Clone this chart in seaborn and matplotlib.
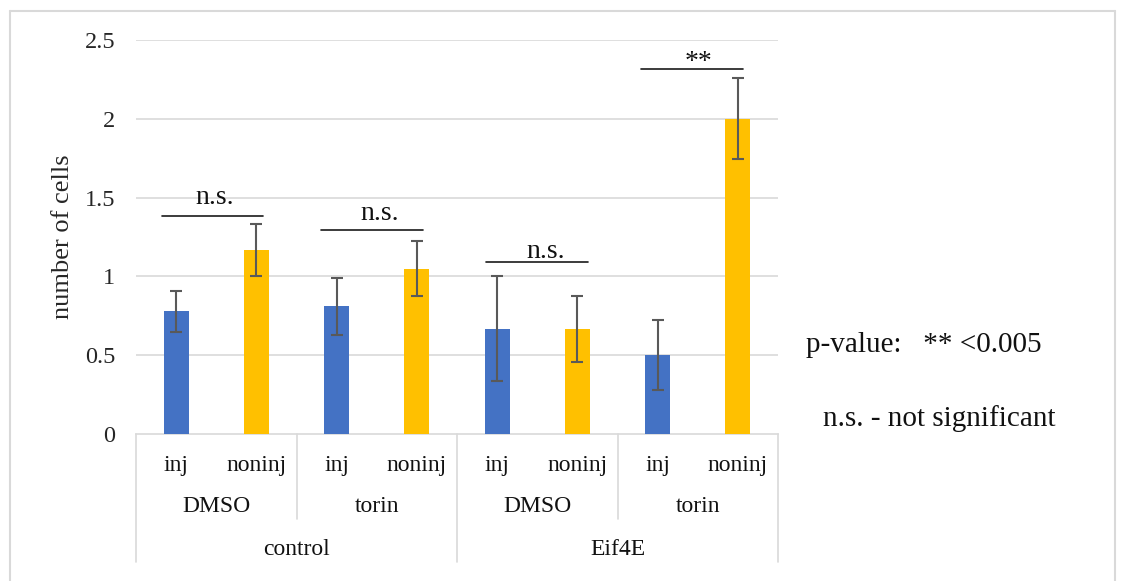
import numpy as np
import pandas as pd
import matplotlib
matplotlib.use("Agg")
import matplotlib.pyplot as plt
from matplotlib.lines import Line2D
import seaborn as sns

# ---- data -------------------------------------------------------------
groups = ["control", "control", "control", "control",
          "Eif4E", "Eif4E", "Eif4E", "Eif4E"]
drugs = ["DMSO", "DMSO", "torin", "torin",
         "DMSO", "DMSO", "torin", "torin"]
conditions = ["inj", "noninj", "inj", "noninj",
              "inj", "noninj", "inj", "noninj"]
cell_counts = [0.778, 1.167, 0.81, 1.048, 0.667, 0.667, 0.5, 2.0]
errors = [0.13, 0.167, 0.18, 0.175, 0.333, 0.21, 0.222, 0.256]
y_ticks = [0, 0.5, 1, 1.5, 2, 2.5]

group_labels = ["control", "Eif4E"]
drug_labels = ["DMSO", "torin", "DMSO", "torin"]

# significance brackets: (x start, x end, bar height, label, label x, label y)
brackets = [
    (-0.178, 1.088, 1.384, "n.s.", 0.485, 1.459),
    (1.807, 3.082, 1.294, "n.s.", 2.54, 1.357),
    (3.863, 5.13, 1.092, "n.s.", 4.60, 1.118),
    (5.794, 7.07, 2.318, "**", 6.505, 2.316),
]

df = pd.DataFrame({
    "group": groups, "drug": drugs, "condition": conditions,
    "value": cell_counts, "err": errors,
})
df["slot"] = [f"{g}|{d}|{c}" for g, d, c in zip(groups, drugs, conditions)]

# ---- styling ----------------------------------------------------------
sns.set_theme(style="white")
plt.rcParams["font.family"] = ["Liberation Serif", "DejaVu Serif"]

W, H = 1123, 581
fig = plt.figure(figsize=(W / 100, H / 100), dpi=100)
fig.patch.set_facecolor("white")

ax_left, ax_right, ax_top, ax_bottom = 136, 778, 40, 433.75
ax = fig.add_axes([ax_left / W, (H - ax_bottom) / H,
                   (ax_right - ax_left) / W, (ax_bottom - ax_top) / H])

GRID = "#d9d9d9"
palette = {"inj": "#4472C4", "noninj": "#FFC000"}

sns.barplot(data=df, x="slot", y="value", hue="condition", palette=palette,
            dodge=False, width=0.31, errorbar=None, legend=False,
            saturation=1, ax=ax, zorder=3, linewidth=0)

x_pos = np.arange(len(df))
ax.errorbar(x_pos, df["value"], yerr=df["err"], fmt="none",
            ecolor="#595959", elinewidth=1.5, capsize=4, capthick=1.5,
            zorder=4)

ax.set_xlim(-0.5, len(df) - 0.5)
ax.set_ylim(0, 2.5)
ax.set_yticks(y_ticks)
ax.set_yticklabels([f"{t:g}" for t in y_ticks], fontsize=17.5)
ax.tick_params(axis="y", length=0, pad=15)
ax.set_xticks([])
ax.set_xlabel("")

for t in y_ticks[1:]:
    ax.axhline(t, color=GRID, lw=1.2, zorder=1)

for side in ["left", "right", "top"]:
    ax.spines[side].set_visible(False)
ax.spines["bottom"].set_color(GRID)
ax.spines["bottom"].set_linewidth(1.2)

ax.set_ylabel("number of cells", fontsize=19)
ax.yaxis.set_label_coords((63 - ax_left) / (ax_right - ax_left), 0.5)
ax.yaxis.label.set_verticalalignment("center")

# ---- multi-level category axis ----------------------------------------
tr = ax.get_xaxis_transform()
def y_ax(pix):
    return (ax_bottom - pix) / (ax_bottom - ax_top)

for i, c in enumerate(conditions):
    ax.text(i, y_ax(471), c, transform=tr, ha="center", va="baseline",
            fontsize=17, color="#111111")
for j, d in enumerate(drug_labels):
    ax.text(2 * j + 0.5, y_ax(512), d, transform=tr, ha="center",
            va="baseline", fontsize=17, color="#111111")
for k, g in enumerate(group_labels):
    ax.text(4 * k + 1.5, y_ax(555), g, transform=tr, ha="center",
            va="baseline", fontsize=17, color="#111111")

for xb in [-0.5, 3.5, 7.5]:
    ax.add_line(Line2D([xb, xb], [0, y_ax(562)], transform=tr, color=GRID,
                       lw=1.2, clip_on=False))
for xb in [1.5, 5.5]:
    ax.add_line(Line2D([xb, xb], [0, y_ax(519)], transform=tr, color=GRID,
                       lw=1.2, clip_on=False))

# ---- significance annotations -----------------------------------------
for x0, x1, yb, lab, lx, ly in brackets:
    ax.plot([x0, x1], [yb, yb], color="#1a1a1a", lw=1.2, zorder=5,
            clip_on=False)
    ax.text(lx, ly, lab, ha="center", va="baseline", fontsize=20,
            color="#111111", zorder=5)

fig.text(806.5 / W, 1 - 351.5 / H, "p-value:   ** <0.005", fontsize=21,
         ha="left", va="baseline", color="#111111")
fig.text(823 / W, 1 - 426 / H, "n.s. - not significant", fontsize=21,
         ha="left", va="baseline", color="#111111")

# chart frame
for xs, ys in [([10, 10], [11, H + 5]), ([10, 1114.5], [11, 11]),
               ([1114.5, 1114.5], [11, H + 5])]:
    fig.add_artist(Line2D([x / W for x in xs], [1 - y / H for y in ys],
                          transform=fig.transFigure, color=GRID, lw=1.5))

fig.savefig("out.png", dpi=100, facecolor="white")
